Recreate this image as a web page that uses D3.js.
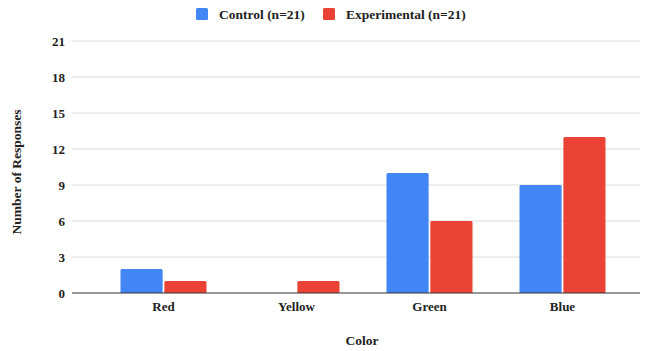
<!DOCTYPE html>
<html><head><meta charset="utf-8">
<script src="https://cdn.jsdelivr.net/npm/d3@7"></script>
<style>body{margin:0;background:#fff}</style>
</head><body>
<svg id="c" width="651" height="351"></svg>
<script>
const categories = ["Red", "Yellow", "Green", "Blue"];
const seriesNames = ["Control (n=21)", "Experimental (n=21)"];
const control = [2, 0, 10, 9];
const experimental = [1, 1, 6, 13];
const yTicks = [0, 3, 6, 9, 12, 15, 18, 21];
const colors = ["#4285F4", "#EA4335"];

const svg = d3.select("#c");
const font = "'Liberation Serif','Times New Roman',serif";
const gridX0 = 72, gridX1 = 640;
const y = d3.scaleLinear().domain([0, 21]).range([293, 41]);
const x = d3.scaleBand().domain(categories).range([97, 629]).paddingInner(0).paddingOuter(0);
const groupW = 86;
const xs = d3.scaleBand().domain([0, 1]).range([0, groupW]).paddingInner(0.04);

svg.append("g").selectAll("line").data(yTicks.filter(t => t > 0)).join("line")
  .attr("x1", gridX0).attr("x2", gridX1)
  .attr("y1", d => y(d)).attr("y2", d => y(d))
  .attr("stroke", "#d9d9d9").attr("stroke-width", 1);

svg.append("g").selectAll("text").data(yTicks).join("text")
  .attr("x", 65).attr("y", d => y(d)).attr("dy", "0.35em")
  .attr("text-anchor", "end").attr("font-family", font).attr("font-weight", "bold")
  .attr("font-size", 13).attr("fill", "#222").text(d => d);

const data = categories.map((c, i) => ({ c, v: [control[i], experimental[i]] }));
const g = svg.append("g");
data.forEach(d => {
  d.v.forEach((v, s) => {
    if (v <= 0) return;
    const bx = x(d.c) + x.bandwidth() / 2 - groupW / 2 + xs(s);
    g.append("path")
      .attr("d", () => {
        const w = xs.bandwidth(), top = y(v), bot = y(0), r = 1.5;
        return `M${bx},${bot}V${top + r}Q${bx},${top} ${bx + r},${top}H${bx + w - r}Q${bx + w},${top} ${bx + w},${top + r}V${bot}Z`;
      })
      .attr("fill", colors[s]);
  });
});

svg.append("line").attr("x1", gridX0).attr("x2", gridX1).attr("y1", y(0)).attr("y2", y(0))
  .attr("stroke", "#333").attr("stroke-width", 1.2);

svg.append("g").selectAll("text").data(categories).join("text")
  .attr("x", d => x(d) + x.bandwidth() / 2).attr("y", 311)
  .attr("text-anchor", "middle").attr("font-family", font).attr("font-weight", "bold")
  .attr("font-size", 13).attr("fill", "#222").text(d => d);

svg.append("text").attr("x", 362).attr("y", 345).attr("text-anchor", "middle")
  .attr("font-family", font).attr("font-weight", "bold").attr("font-size", 13.5).attr("fill", "#222").text("Color");
svg.append("text").attr("transform", "translate(21,172) rotate(-90)").attr("text-anchor", "middle")
  .attr("font-family", font).attr("font-weight", "bold").attr("font-size", 13.5).attr("fill", "#222").text("Number of Responses");

const legX = [196, 323];
seriesNames.forEach((n, i) => {
  svg.append("rect").attr("x", legX[i]).attr("y", 8).attr("width", 12).attr("height", 12).attr("rx", 1.5).attr("fill", colors[i]);
  svg.append("text").attr("x", legX[i] + 23).attr("y", 14).attr("dy", "0.35em")
    .attr("font-family", font).attr("font-weight", "bold").attr("font-size", 13.5).attr("fill", "#222").text(n);
});
</script>
</body></html>
